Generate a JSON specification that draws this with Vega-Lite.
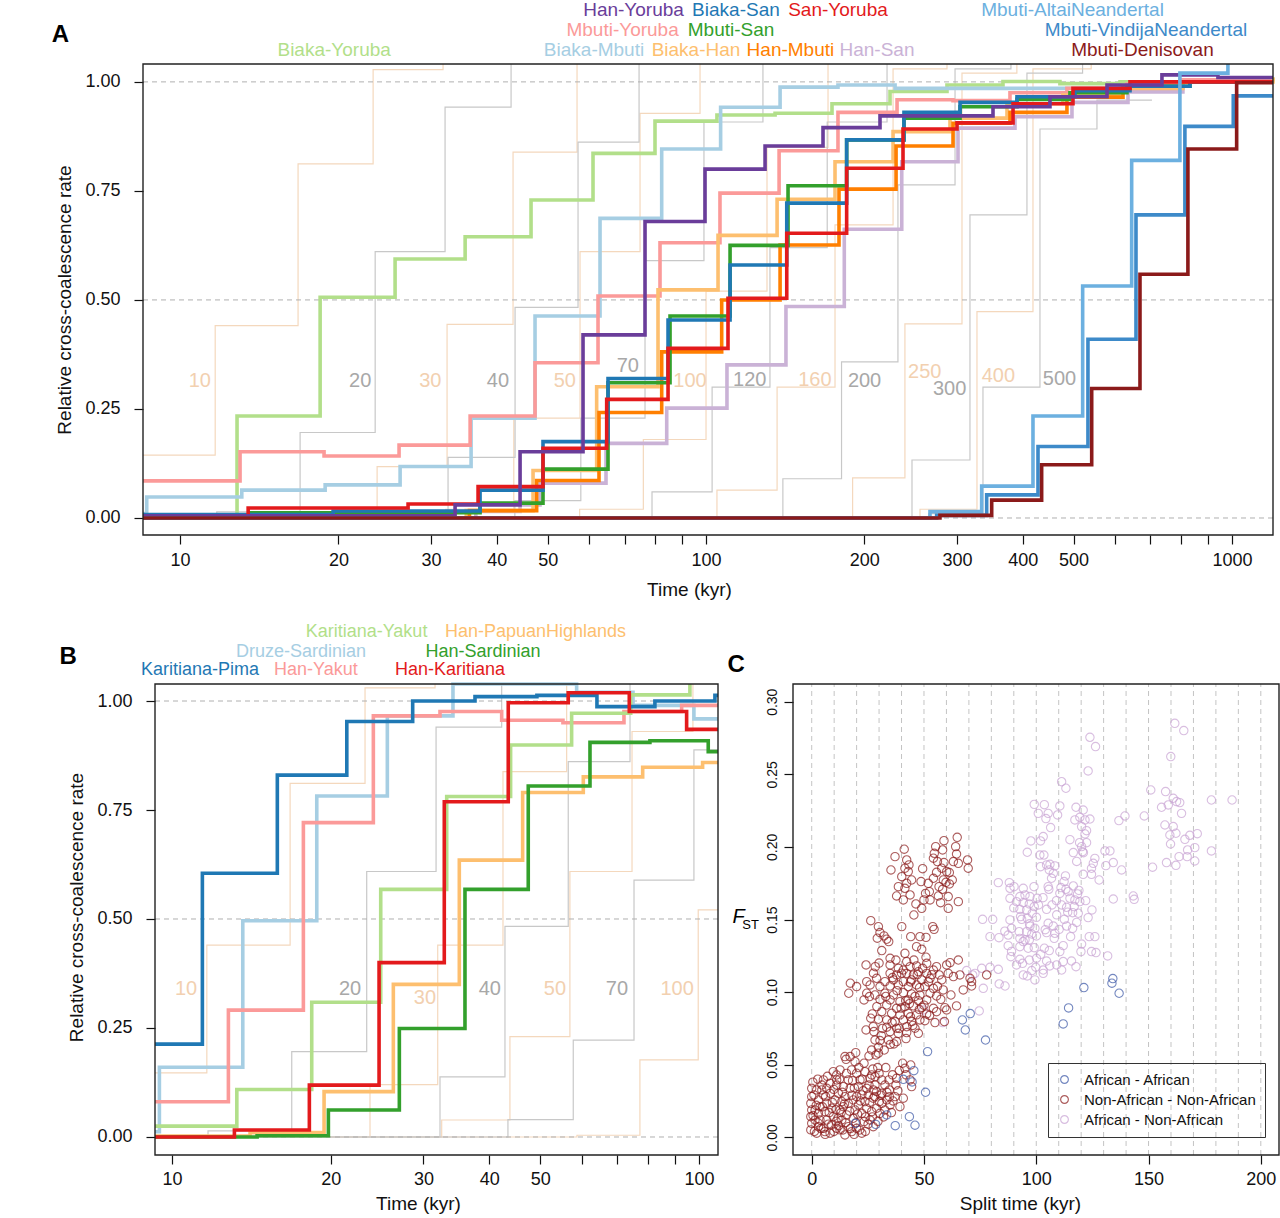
{
"$schema":"https://vega.github.io/schema/vega-lite/v6.json",
"width":1280,"height":1218,
"autosize":{"type":"none"},
"padding":0,
"background":"white",
"config":{
 "font":"Liberation Sans",
 "view":{"stroke":null},
 "axis":{"domain":false,"grid":false,"ticks":true,"tickColor":"#111","tickSize":9,"tickWidth":1.2,
  "labelFont":"Liberation Sans","labelFontSize":18,"labelColor":"#111",
  "titleFont":"Liberation Sans","titleFontSize":19,"titleFontWeight":"normal","titleColor":"#111"},
 "text":{"font":"Liberation Sans"}
},
"datasets":{
 "seriesA":[
  {"s":"Biaka-Yoruba","t":8.5,"v":0.003},{"s":"Biaka-Yoruba","t":12.83,"v":0.234},{"s":"Biaka-Yoruba","t":18.46,"v":0.506},{"s":"Biaka-Yoruba","t":25.63,"v":0.594},{"s":"Biaka-Yoruba","t":34.83,"v":0.645},{"s":"Biaka-Yoruba","t":46.48,"v":0.729},{"s":"Biaka-Yoruba","t":60.97,"v":0.836},{"s":"Biaka-Yoruba","t":79.98,"v":0.91},{"s":"Biaka-Yoruba","t":104.9,"v":0.924},{"s":"Biaka-Yoruba","t":135.3,"v":0.928},{"s":"Biaka-Yoruba","t":173.6,"v":0.95},{"s":"Biaka-Yoruba","t":223.8,"v":0.978},{"s":"Biaka-Yoruba","t":287.2,"v":0.993},{"s":"Biaka-Yoruba","t":367.0,"v":1.001},{"s":"Biaka-Yoruba","t":470.9,"v":0.996},{"s":"Biaka-Yoruba","t":612.6,"v":1.0},{"s":"Biaka-Yoruba","t":796.3,"v":1.005},{"s":"Biaka-Yoruba","t":1197,"v":1.01},
  {"s":"Biaka-Mbuti","t":8.5,"v":0.01},{"s":"Biaka-Mbuti","t":8.64,"v":0.048},{"s":"Biaka-Mbuti","t":13.1,"v":0.064},{"s":"Biaka-Mbuti","t":18.87,"v":0.076},{"s":"Biaka-Mbuti","t":26.2,"v":0.118},{"s":"Biaka-Mbuti","t":35.75,"v":0.229},{"s":"Biaka-Mbuti","t":47.3,"v":0.463},{"s":"Biaka-Mbuti","t":62.87,"v":0.687},{"s":"Biaka-Mbuti","t":82.36,"v":0.846},{"s":"Biaka-Mbuti","t":106.6,"v":0.942},{"s":"Biaka-Mbuti","t":138.3,"v":0.988},{"s":"Biaka-Mbuti","t":178.2,"v":0.993},{"s":"Biaka-Mbuti","t":228.8,"v":0.985},{"s":"Biaka-Mbuti","t":470.9,"v":0.985},{"s":"Biaka-Mbuti","t":796.3,"v":1.0},{"s":"Biaka-Mbuti","t":1197,"v":1.0},
  {"s":"Mbuti-Yoruba","t":8.5,"v":0.085},{"s":"Mbuti-Yoruba","t":13.0,"v":0.152},{"s":"Mbuti-Yoruba","t":18.78,"v":0.142},{"s":"Mbuti-Yoruba","t":26.08,"v":0.167},{"s":"Mbuti-Yoruba","t":35.6,"v":0.234},{"s":"Mbuti-Yoruba","t":47.3,"v":0.356},{"s":"Mbuti-Yoruba","t":62.32,"v":0.509},{"s":"Mbuti-Yoruba","t":81.75,"v":0.631},{"s":"Mbuti-Yoruba","t":106.3,"v":0.745},{"s":"Mbuti-Yoruba","t":137.7,"v":0.842},{"s":"Mbuti-Yoruba","t":178.2,"v":0.93},{"s":"Mbuti-Yoruba","t":230.8,"v":0.959},{"s":"Mbuti-Yoruba","t":294.9,"v":0.957},{"s":"Mbuti-Yoruba","t":378.4,"v":0.975},{"s":"Mbuti-Yoruba","t":485.6,"v":0.985},{"s":"Mbuti-Yoruba","t":631.6,"v":0.995},{"s":"Mbuti-Yoruba","t":796.3,"v":1.005},{"s":"Mbuti-Yoruba","t":1197,"v":1.005},
  {"s":"Han-San","t":8.5,"v":0.0},{"s":"Han-San","t":36.5,"v":0.015},{"s":"Han-San","t":44.3,"v":0.03},{"s":"Han-San","t":48.34,"v":0.08},{"s":"Han-San","t":64.54,"v":0.171},{"s":"Han-San","t":84.19,"v":0.252},{"s":"Han-San","t":109.6,"v":0.351},{"s":"Han-San","t":141.9,"v":0.485},{"s":"Han-San","t":183.2,"v":0.662},{"s":"Han-San","t":235.6,"v":0.817},{"s":"Han-San","t":301.4,"v":0.894},{"s":"Han-San","t":386.8,"v":0.92},{"s":"Han-San","t":496.4,"v":0.953},{"s":"Han-San","t":634.4,"v":0.977},{"s":"Han-San","t":806.8,"v":1.0},{"s":"Han-San","t":1197,"v":1.0},
  {"s":"Biaka-Han","t":8.5,"v":0.0},{"s":"Biaka-Han","t":35.0,"v":0.017},{"s":"Biaka-Han","t":46.89,"v":0.109},{"s":"Biaka-Han","t":61.95,"v":0.301},{"s":"Biaka-Han","t":81.04,"v":0.523},{"s":"Biaka-Han","t":105.4,"v":0.648},{"s":"Biaka-Han","t":136.5,"v":0.731},{"s":"Biaka-Han","t":175.9,"v":0.817},{"s":"Biaka-Han","t":226.8,"v":0.886},{"s":"Biaka-Han","t":291.0,"v":0.917},{"s":"Biaka-Han","t":373.5,"v":0.95},{"s":"Biaka-Han","t":477.1,"v":0.97},{"s":"Biaka-Han","t":612.6,"v":0.985},{"s":"Biaka-Han","t":806.8,"v":1.0},{"s":"Biaka-Han","t":1197,"v":1.01},
  {"s":"Han-Mbuti","t":8.5,"v":0.0},{"s":"Han-Mbuti","t":35.5,"v":0.017},{"s":"Han-Mbuti","t":47.64,"v":0.086},{"s":"Han-Mbuti","t":62.59,"v":0.242},{"s":"Han-Mbuti","t":82.36,"v":0.381},{"s":"Han-Mbuti","t":107.1,"v":0.5},{"s":"Han-Mbuti","t":138.3,"v":0.626},{"s":"Han-Mbuti","t":179.0,"v":0.754},{"s":"Han-Mbuti","t":229.8,"v":0.853},{"s":"Han-Mbuti","t":294.9,"v":0.905},{"s":"Han-Mbuti","t":378.4,"v":0.93},{"s":"Han-Mbuti","t":485.6,"v":0.965},{"s":"Han-Mbuti","t":620.7,"v":0.99},{"s":"Han-Mbuti","t":796.3,"v":1.0},{"s":"Han-Mbuti","t":1197,"v":1.0},
  {"s":"Mbuti-San","t":8.5,"v":0.003},{"s":"Mbuti-San","t":13.59,"v":0.012},{"s":"Mbuti-San","t":37.18,"v":0.034},{"s":"Mbuti-San","t":48.98,"v":0.112},{"s":"Mbuti-San","t":65.11,"v":0.31},{"s":"Mbuti-San","t":85.42,"v":0.463},{"s":"Mbuti-San","t":111.1,"v":0.625},{"s":"Mbuti-San","t":143.2,"v":0.762},{"s":"Mbuti-San","t":185.1,"v":0.867},{"s":"Mbuti-San","t":237.9,"v":0.917},{"s":"Mbuti-San","t":304.1,"v":0.943},{"s":"Mbuti-San","t":390.2,"v":0.96},{"s":"Mbuti-San","t":492.0,"v":0.975},{"s":"Mbuti-San","t":631.6,"v":0.99},{"s":"Mbuti-San","t":832.1,"v":1.0},{"s":"Mbuti-San","t":1197,"v":1.0},
  {"s":"Biaka-San","t":8.5,"v":0.008},{"s":"Biaka-San","t":19.54,"v":0.016},{"s":"Biaka-San","t":37.18,"v":0.064},{"s":"Biaka-San","t":48.98,"v":0.175},{"s":"Biaka-San","t":65.11,"v":0.32},{"s":"Biaka-San","t":84.68,"v":0.454},{"s":"Biaka-San","t":111.1,"v":0.58},{"s":"Biaka-San","t":142.4,"v":0.722},{"s":"Biaka-San","t":185.1,"v":0.867},{"s":"Biaka-San","t":237.9,"v":0.93},{"s":"Biaka-San","t":304.1,"v":0.953},{"s":"Biaka-San","t":390.2,"v":0.966},{"s":"Biaka-San","t":502.9,"v":0.98},{"s":"Biaka-San","t":640.0,"v":0.99},{"s":"Biaka-San","t":832.1,"v":1.0},{"s":"Biaka-San","t":1197,"v":1.0},
  {"s":"San-Yoruba","t":8.5,"v":0.003},{"s":"San-Yoruba","t":13.47,"v":0.023},{"s":"San-Yoruba","t":27.13,"v":0.032},{"s":"San-Yoruba","t":36.86,"v":0.072},{"s":"San-Yoruba","t":48.98,"v":0.16},{"s":"San-Yoruba","t":64.73,"v":0.272},{"s":"San-Yoruba","t":84.68,"v":0.389},{"s":"San-Yoruba","t":110.1,"v":0.504},{"s":"San-Yoruba","t":142.4,"v":0.653},{"s":"San-Yoruba","t":185.1,"v":0.802},{"s":"San-Yoruba","t":236.9,"v":0.892},{"s":"San-Yoruba","t":300.1,"v":0.906},{"s":"San-Yoruba","t":383.5,"v":0.95},{"s":"San-Yoruba","t":498.6,"v":0.985},{"s":"San-Yoruba","t":640.0,"v":1.0},{"s":"San-Yoruba","t":1197,"v":1.0},
  {"s":"Han-Yoruba","t":8.5,"v":0.005},{"s":"Han-Yoruba","t":33.33,"v":0.03},{"s":"Han-Yoruba","t":44.3,"v":0.152},{"s":"Han-Yoruba","t":58.36,"v":0.42},{"s":"Han-Yoruba","t":76.56,"v":0.68},{"s":"Han-Yoruba","t":99.56,"v":0.8},{"s":"Han-Yoruba","t":129.5,"v":0.853},{"s":"Han-Yoruba","t":166.9,"v":0.895},{"s":"Han-Yoruba","t":214.2,"v":0.922},{"s":"Han-Yoruba","t":351.3,"v":0.943},{"s":"Han-Yoruba","t":450.8,"v":0.966},{"s":"Han-Yoruba","t":578.7,"v":0.993},{"s":"Han-Yoruba","t":736.1,"v":1.016},{"s":"Han-Yoruba","t":940.6,"v":1.01},{"s":"Han-Yoruba","t":1197,"v":1.01},
  {"s":"Mbuti-AltaiNeandertal","t":8.5,"v":0.0},{"s":"Mbuti-AltaiNeandertal","t":266.6,"v":0.0145},{"s":"Mbuti-AltaiNeandertal","t":334.3,"v":0.073},{"s":"Mbuti-AltaiNeandertal","t":418.5,"v":0.234},{"s":"Mbuti-AltaiNeandertal","t":520.2,"v":0.532},{"s":"Mbuti-AltaiNeandertal","t":644.7,"v":0.82},{"s":"Mbuti-AltaiNeandertal","t":796.3,"v":1.02},{"s":"Mbuti-AltaiNeandertal","t":982.6,"v":1.041},
  {"s":"Mbuti-VindijaNeandertal","t":8.5,"v":0.0},{"s":"Mbuti-VindijaNeandertal","t":274.5,"v":0.006},{"s":"Mbuti-VindijaNeandertal","t":341.7,"v":0.053},{"s":"Mbuti-VindijaNeandertal","t":427.8,"v":0.164},{"s":"Mbuti-VindijaNeandertal","t":532.4,"v":0.41},{"s":"Mbuti-VindijaNeandertal","t":657.0,"v":0.695},{"s":"Mbuti-VindijaNeandertal","t":813.9,"v":0.898},{"s":"Mbuti-VindijaNeandertal","t":1005.8,"v":0.968},{"s":"Mbuti-VindijaNeandertal","t":1197,"v":0.968},
  {"s":"Mbuti-Denisovan","t":8.5,"v":0.0},{"s":"Mbuti-Denisovan","t":278.5,"v":0.006},{"s":"Mbuti-Denisovan","t":349.3,"v":0.041},{"s":"Mbuti-Denisovan","t":434.7,"v":0.122},{"s":"Mbuti-Denisovan","t":541.2,"v":0.297},{"s":"Mbuti-Denisovan","t":668.6,"v":0.559},{"s":"Mbuti-Denisovan","t":824.7,"v":0.846},{"s":"Mbuti-Denisovan","t":1020.9,"v":0.998},{"s":"Mbuti-Denisovan","t":1197,"v":0.998}
 ],
 "refA":[
  {"ref":10,"t":8.5,"v":0.144},{"ref":10,"t":11.66,"v":0.441},{"ref":10,"t":16.76,"v":0.812},{"ref":10,"t":23.28,"v":1.028},{"ref":10,"t":31.62,"v":1.041},
  {"ref":20,"t":8.5,"v":0.0},{"ref":20,"t":11.74,"v":0.014},{"ref":20,"t":16.91,"v":0.196},{"ref":20,"t":23.49,"v":0.611},{"ref":20,"t":31.9,"v":0.942},{"ref":20,"t":42.59,"v":1.041},
  {"ref":30,"t":8.5,"v":0.0},{"ref":30,"t":18.0,"v":0.004},{"ref":30,"t":23.69,"v":0.118},{"ref":30,"t":32.18,"v":0.444},{"ref":30,"t":42.96,"v":0.839},{"ref":30,"t":56.85,"v":1.041},
  {"ref":40,"t":8.5,"v":0.0},{"ref":40,"t":23.5,"v":0.01},{"ref":40,"t":32.32,"v":0.139},{"ref":40,"t":43.34,"v":0.483},{"ref":40,"t":57.1,"v":0.862},{"ref":40,"t":74.59,"v":1.041},
  {"ref":50,"t":8.5,"v":0.0},{"ref":50,"t":32.0,"v":0.02},{"ref":50,"t":43.1,"v":0.229},{"ref":50,"t":57.6,"v":0.611},{"ref":50,"t":74.91,"v":0.928},{"ref":50,"t":97.41,"v":1.041},
  {"ref":70,"t":8.5,"v":0.0},{"ref":70,"t":43.3,"v":0.04},{"ref":70,"t":57.8,"v":0.229},{"ref":70,"t":76.56,"v":0.59},{"ref":70,"t":99.1,"v":0.908},{"ref":70,"t":128.3,"v":1.041},
  {"ref":100,"t":8.5,"v":0.0},{"ref":100,"t":57.5,"v":0.02},{"ref":100,"t":76.0,"v":0.18},{"ref":100,"t":100.0,"v":0.52},{"ref":100,"t":130.6,"v":0.85},{"ref":100,"t":170.6,"v":1.041},
  {"ref":120,"t":8.5,"v":0.0},{"ref":120,"t":78.94,"v":0.06},{"ref":120,"t":102.7,"v":0.3},{"ref":120,"t":132.3,"v":0.62},{"ref":120,"t":170.0,"v":0.908},{"ref":120,"t":220.9,"v":1.041},
  {"ref":160,"t":8.5,"v":0.0},{"ref":160,"t":104.9,"v":0.064},{"ref":160,"t":136.5,"v":0.3},{"ref":160,"t":175.9,"v":0.672},{"ref":160,"t":226.8,"v":1.03},{"ref":160,"t":287.2,"v":1.041},
  {"ref":200,"t":8.5,"v":0.0},{"ref":200,"t":140.0,"v":0.09},{"ref":200,"t":181.0,"v":0.358},{"ref":200,"t":231.7,"v":0.764},{"ref":200,"t":297.5,"v":1.03},{"ref":200,"t":380.0,"v":1.041},
  {"ref":250,"t":8.5,"v":0.0},{"ref":250,"t":190.0,"v":0.092},{"ref":250,"t":238.9,"v":0.445},{"ref":250,"t":306.7,"v":1.02},{"ref":250,"t":390.0,"v":1.041},
  {"ref":300,"t":8.5,"v":0.0},{"ref":300,"t":246.4,"v":0.133},{"ref":300,"t":317.6,"v":0.695},{"ref":300,"t":407.6,"v":1.02},{"ref":300,"t":520.0,"v":1.041},
  {"ref":400,"t":8.5,"v":0.0},{"ref":400,"t":255.2,"v":0.02},{"ref":400,"t":327.5,"v":0.473},{"ref":400,"t":418.5,"v":1.03},{"ref":400,"t":540.0,"v":1.041},
  {"ref":500,"t":8.5,"v":0.0},{"ref":500,"t":265.0,"v":0.01},{"ref":500,"t":336.2,"v":0.3},{"ref":500,"t":431.5,"v":0.892},{"ref":500,"t":553.8,"v":0.958},{"ref":500,"t":704.6,"v":0.958}
 ],
 "refLabelsA":[
  {"ref":10,"t":10.9,"v":0.314},{"ref":20,"t":22.0,"v":0.314},{"ref":30,"t":29.9,"v":0.314},{"ref":40,"t":40.2,"v":0.314},{"ref":50,"t":53.9,"v":0.314},{"ref":70,"t":71.0,"v":0.349},{"ref":100,"t":93.2,"v":0.314},{"ref":120,"t":121.1,"v":0.317},{"ref":160,"t":161.1,"v":0.317},{"ref":200,"t":200.2,"v":0.314},{"ref":250,"t":260.6,"v":0.335},{"ref":300,"t":290.6,"v":0.296},{"ref":400,"t":359.7,"v":0.326},{"ref":500,"t":470.0,"v":0.319}
 ],
 "labelsA":[
  {"s":"Han-Yoruba","t":72.8,"v":1.165},{"s":"Biaka-San","t":114.0,"v":1.165},{"s":"San-Yoruba","t":178.2,"v":1.165},{"s":"Mbuti-AltaiNeandertal","t":497.6,"v":1.165},
  {"s":"Mbuti-Yoruba","t":69.4,"v":1.119},{"s":"Mbuti-San","t":111.6,"v":1.119},{"s":"Mbuti-VindijaNeandertal","t":686.3,"v":1.119},
  {"s":"Biaka-Yoruba","t":19.63,"v":1.073},{"s":"Biaka-Mbuti","t":61.24,"v":1.073},{"s":"Biaka-Han","t":95.7,"v":1.073},{"s":"Han-Mbuti","t":144.7,"v":1.073},{"s":"Han-San","t":211.4,"v":1.073},{"s":"Mbuti-Denisovan","t":675.8,"v":1.073}
 ],
 "gridA":[{"v":0},{"v":0.5},{"v":1}],
 "seriesB":[
  {"s":"Druze-Sardinian","t":9.28,"v":0.012},{"s":"Druze-Sardinian","t":9.46,"v":0.16},{"s":"Druze-Sardinian","t":13.62,"v":0.496},{"s":"Druze-Sardinian","t":18.82,"v":0.782},{"s":"Druze-Sardinian","t":25.62,"v":0.966},{"s":"Druze-Sardinian","t":34.13,"v":1.039},{"s":"Druze-Sardinian","t":58.6,"v":1.02},{"s":"Druze-Sardinian","t":74.97,"v":0.99},{"s":"Druze-Sardinian","t":97.84,"v":0.959},{"s":"Druze-Sardinian","t":108.7,"v":0.959},
  {"s":"Han-Yakut","t":9.28,"v":0.081},{"s":"Han-Yakut","t":12.79,"v":0.291},{"s":"Han-Yakut","t":17.75,"v":0.721},{"s":"Han-Yakut","t":24.1,"v":0.966},{"s":"Han-Yakut","t":32.25,"v":0.976},{"s":"Han-Yakut","t":42.23,"v":0.956},{"s":"Han-Yakut","t":55.2,"v":0.95},{"s":"Han-Yakut","t":72.07,"v":0.976},{"s":"Han-Yakut","t":92.73,"v":0.99},{"s":"Han-Yakut","t":108.7,"v":0.99},
  {"s":"Karitiana-Yakut","t":9.28,"v":0.025},{"s":"Karitiana-Yakut","t":13.27,"v":0.109},{"s":"Karitiana-Yakut","t":18.41,"v":0.309},{"s":"Karitiana-Yakut","t":24.89,"v":0.568},{"s":"Karitiana-Yakut","t":33.21,"v":0.781},{"s":"Karitiana-Yakut","t":43.91,"v":0.899},{"s":"Karitiana-Yakut","t":57.33,"v":0.972},{"s":"Karitiana-Yakut","t":74.22,"v":1.014},{"s":"Karitiana-Yakut","t":96.14,"v":1.039},
  {"s":"Han-PapuanHighlands","t":9.28,"v":0.002},{"s":"Han-PapuanHighlands","t":14.06,"v":0.01},{"s":"Han-PapuanHighlands","t":19.43,"v":0.104},{"s":"Han-PapuanHighlands","t":26.3,"v":0.35},{"s":"Han-PapuanHighlands","t":35.09,"v":0.635},{"s":"Han-PapuanHighlands","t":46.28,"v":0.79},{"s":"Han-PapuanHighlands","t":60.33,"v":0.826},{"s":"Han-PapuanHighlands","t":78.21,"v":0.848},{"s":"Han-PapuanHighlands","t":101.63,"v":0.859},{"s":"Han-PapuanHighlands","t":108.7,"v":0.859},
  {"s":"Han-Sardinian","t":9.28,"v":0.0},{"s":"Han-Sardinian","t":14.5,"v":0.003},{"s":"Han-Sardinian","t":19.8,"v":0.062},{"s":"Han-Sardinian","t":27.0,"v":0.249},{"s":"Han-Sardinian","t":35.97,"v":0.568},{"s":"Han-Sardinian","t":47.43,"v":0.805},{"s":"Han-Sardinian","t":62.12,"v":0.905},{"s":"Han-Sardinian","t":80.72,"v":0.909},{"s":"Han-Sardinian","t":104.16,"v":0.884},{"s":"Han-Sardinian","t":108.7,"v":0.884},
  {"s":"Karitiana-Pima","t":9.28,"v":0.213},{"s":"Karitiana-Pima","t":11.415,"v":0.605},{"s":"Karitiana-Pima","t":15.84,"v":0.83},{"s":"Karitiana-Pima","t":21.46,"v":0.953},{"s":"Karitiana-Pima","t":28.62,"v":1.0},{"s":"Karitiana-Pima","t":37.58,"v":1.01},{"s":"Karitiana-Pima","t":49.26,"v":1.013},{"s":"Karitiana-Pima","t":64.04,"v":0.987},{"s":"Karitiana-Pima","t":82.5,"v":1.0},{"s":"Karitiana-Pima","t":107.25,"v":1.013},{"s":"Karitiana-Pima","t":108.7,"v":1.013},
  {"s":"Han-Karitiana","t":9.28,"v":0.0},{"s":"Han-Karitiana","t":13.13,"v":0.016},{"s":"Han-Karitiana","t":18.22,"v":0.119},{"s":"Han-Karitiana","t":24.71,"v":0.4},{"s":"Han-Karitiana","t":32.86,"v":0.769},{"s":"Han-Karitiana","t":43.46,"v":0.996},{"s":"Han-Karitiana","t":56.49,"v":1.019},{"s":"Han-Karitiana","t":73.76,"v":0.976},{"s":"Han-Karitiana","t":94.77,"v":0.935},{"s":"Han-Karitiana","t":108.7,"v":0.935}
 ],
 "refB":[
  {"ref":10,"t":9.28,"v":0.147},{"ref":10,"t":11.64,"v":0.44},{"ref":10,"t":16.75,"v":0.811},{"ref":10,"t":23.24,"v":1.03},{"ref":10,"t":31.56,"v":1.039},
  {"ref":20,"t":9.28,"v":0.0},{"ref":20,"t":11.7,"v":0.014},{"ref":20,"t":16.87,"v":0.196},{"ref":20,"t":23.41,"v":0.609},{"ref":20,"t":31.7,"v":0.94},{"ref":20,"t":42.23,"v":1.039},
  {"ref":30,"t":9.28,"v":0.0},{"ref":30,"t":23.75,"v":0.12},{"ref":30,"t":31.93,"v":0.44},{"ref":30,"t":42.47,"v":0.838},{"ref":30,"t":56.1,"v":1.039},
  {"ref":40,"t":9.28,"v":0.0},{"ref":40,"t":32.25,"v":0.138},{"ref":40,"t":42.84,"v":0.483},{"ref":40,"t":56.49,"v":0.861},{"ref":40,"t":74.0,"v":1.039},
  {"ref":50,"t":9.28,"v":0.0},{"ref":50,"t":32.49,"v":0.039},{"ref":50,"t":43.78,"v":0.23},{"ref":50,"t":56.9,"v":0.609},{"ref":50,"t":74.65,"v":0.93},{"ref":50,"t":97.41,"v":1.039},
  {"ref":70,"t":9.28,"v":0.0},{"ref":70,"t":43.4,"v":0.04},{"ref":70,"t":57.74,"v":0.222},{"ref":70,"t":75.3,"v":0.589},{"ref":70,"t":97.84,"v":0.888},{"ref":70,"t":108.7,"v":0.888},
  {"ref":100,"t":9.28,"v":0.0},{"ref":100,"t":58.68,"v":0.004},{"ref":100,"t":77.27,"v":0.177},{"ref":100,"t":99.7,"v":0.521},{"ref":100,"t":108.7,"v":0.521}
 ],
 "refLabelsB":[
  {"ref":10,"t":10.63,"v":0.339},{"ref":20,"t":21.77,"v":0.339},{"ref":30,"t":30.2,"v":0.319},{"ref":40,"t":40.1,"v":0.339},{"ref":50,"t":53.3,"v":0.339},{"ref":70,"t":69.9,"v":0.339},{"ref":100,"t":90.9,"v":0.339}
 ],
 "labelsB":[
  {"s":"Karitiana-Yakut","t":23.39,"v":1.158},{"s":"Han-PapuanHighlands","t":48.95,"v":1.158},
  {"s":"Druze-Sardinian","t":17.57,"v":1.112},{"s":"Han-Sardinian","t":38.92,"v":1.112},
  {"s":"Karitiana-Pima","t":11.3,"v":1.071},{"s":"Han-Yakut","t":18.75,"v":1.071},{"s":"Han-Karitiana","t":33.7,"v":1.071}
 ],
 "gridC":[{"t":0},{"t":10},{"t":20},{"t":30},{"t":40},{"t":50},{"t":60},{"t":70},{"t":80},{"t":90},{"t":100},{"t":110},{"t":120},{"t":130},{"t":140},{"t":150},{"t":160},{"t":170},{"t":180},{"t":190},{"t":200}],
 "fst":[
  {"g":"AN","t":161.7,"f":0.2851},{"g":"AN","t":165.7,"f":0.2801},{"g":"AN","t":123.9,"f":0.2755},{"g":"AN","t":126.4,"f":0.2691},{"g":"AN","t":159.9,"f":0.2622},{"g":"AN","t":123.1,"f":0.2523},{"g":"AN","t":111.3,"f":0.2449},{"g":"AN","t":113.2,"f":0.2404},{"g":"AN","t":151.0,"f":0.2392},{"g":"AN","t":157.6,"f":0.2381},
  {"g":"AN","t":178.0,"f":0.2323},{"g":"AN","t":187.2,"f":0.2323},{"g":"AN","t":161.0,"f":0.2335},{"g":"AN","t":162.5,"f":0.2312},{"g":"AN","t":163.9,"f":0.2305},{"g":"AN","t":164.7,"f":0.2231},{"g":"AN","t":155.8,"f":0.2273},{"g":"AN","t":158.8,"f":0.2289},{"g":"AN","t":148.1,"f":0.2213},{"g":"AN","t":139.5,"f":0.2213},
  {"g":"AN","t":136.8,"f":0.2181},{"g":"AN","t":157.3,"f":0.2151},{"g":"AN","t":161.0,"f":0.214},{"g":"AN","t":159.5,"f":0.2082},{"g":"AN","t":162.2,"f":0.2094},{"g":"AN","t":168.4,"f":0.208},{"g":"AN","t":171.7,"f":0.2091},{"g":"AN","t":166.2,"f":0.2052},{"g":"AN","t":159.8,"f":0.202},{"g":"AN","t":167.4,"f":0.1979},
  {"g":"AN","t":170.6,"f":0.1995},{"g":"AN","t":178.0,"f":0.1972},{"g":"AN","t":163.6,"f":0.1933},{"g":"AN","t":167.2,"f":0.1933},{"g":"AN","t":170.6,"f":0.1903},{"g":"AN","t":158.0,"f":0.1892},{"g":"AN","t":162.2,"f":0.1873},{"g":"AN","t":151.8,"f":0.186},{"g":"AN","t":99.1,"f":0.2293},{"g":"AN","t":103.6,"f":0.2291},
  {"g":"AN","t":110.5,"f":0.2282},{"g":"AN","t":117.7,"f":0.2273},{"g":"AN","t":120.9,"f":0.2254},{"g":"AN","t":100.9,"f":0.2231},{"g":"AN","t":105.3,"f":0.2231},{"g":"AN","t":109.5,"f":0.222},{"g":"AN","t":104.3,"f":0.2195},{"g":"AN","t":106.4,"f":0.2133},{"g":"AN","t":117.2,"f":0.2186},{"g":"AN","t":119.4,"f":0.2204},
  {"g":"AN","t":121.7,"f":0.2186},{"g":"AN","t":123.9,"f":0.2192},{"g":"AN","t":120.2,"f":0.214},{"g":"AN","t":122.4,"f":0.2112},{"g":"AN","t":121.7,"f":0.2089},{"g":"AN","t":103.1,"f":0.2071},{"g":"AN","t":97.6,"f":0.2041},{"g":"AN","t":101.9,"f":0.2041},{"g":"AN","t":119.3,"f":0.2029},{"g":"AN","t":122.4,"f":0.2029},
  {"g":"AN","t":120.2,"f":0.2002},{"g":"AN","t":116.5,"f":0.1961},{"g":"AN","t":120.6,"f":0.1967},{"g":"AN","t":130.6,"f":0.1972},{"g":"AN","t":132.8,"f":0.1972},{"g":"AN","t":96.0,"f":0.1963},{"g":"AN","t":101.6,"f":0.1944},{"g":"AN","t":103.4,"f":0.1944},{"g":"AN","t":126.1,"f":0.1921},{"g":"AN","t":125.4,"f":0.1887},
  {"g":"AN","t":131.0,"f":0.1871},{"g":"AN","t":134.3,"f":0.1892},{"g":"AN","t":138.0,"f":0.1841},{"g":"AN","t":101.9,"f":0.1864},{"g":"AN","t":104.6,"f":0.1876},{"g":"AN","t":106.1,"f":0.188},{"g":"AN","t":108.3,"f":0.1869},{"g":"AN","t":105.8,"f":0.1841},{"g":"AN","t":107.6,"f":0.1818},{"g":"AN","t":106.8,"f":0.1784},
  {"g":"AN","t":124.6,"f":0.1853},{"g":"AN","t":120.9,"f":0.1811},{"g":"AN","t":124.6,"f":0.1811},{"g":"AN","t":128.0,"f":0.1772},{"g":"AN","t":112.4,"f":0.1761},{"g":"AN","t":83.1,"f":0.1754},{"g":"AN","t":88.0,"f":0.1754},{"g":"AN","t":105.3,"f":0.1726},{"g":"AN","t":105.6,"f":0.1708},{"g":"AN","t":113.2,"f":0.1708},
  {"g":"AN","t":116.5,"f":0.1731},{"g":"AN","t":88.3,"f":0.1715},{"g":"AN","t":90.1,"f":0.1726},{"g":"AN","t":94.2,"f":0.1715},{"g":"AN","t":99.0,"f":0.1726},{"g":"AN","t":110.5,"f":0.168},{"g":"AN","t":114.2,"f":0.1692},{"g":"AN","t":118.4,"f":0.1676},{"g":"AN","t":115.0,"f":0.1646},{"g":"AN","t":117.2,"f":0.1635},
  {"g":"AN","t":119.4,"f":0.1623},{"g":"AN","t":116.9,"f":0.1589},{"g":"AN","t":113.5,"f":0.1584},{"g":"AN","t":111.3,"f":0.16},{"g":"AN","t":118.7,"f":0.1543},{"g":"AN","t":116.2,"f":0.1547},{"g":"AN","t":123.1,"f":0.1513},{"g":"AN","t":124.8,"f":0.1566},{"g":"AN","t":143.2,"f":0.1662},{"g":"AN","t":143.6,"f":0.1639},
  {"g":"AN","t":134.3,"f":0.1641},{"g":"AN","t":88.3,"f":0.1646},{"g":"AN","t":92.7,"f":0.1658},{"g":"AN","t":95.0,"f":0.1669},{"g":"AN","t":97.2,"f":0.1658},{"g":"AN","t":100.4,"f":0.1646},{"g":"AN","t":91.2,"f":0.1623},{"g":"AN","t":94.2,"f":0.1616},{"g":"AN","t":96.9,"f":0.1607},{"g":"AN","t":99.1,"f":0.1589},
  {"g":"AN","t":92.7,"f":0.157},{"g":"AN","t":95.7,"f":0.1566},{"g":"AN","t":98.2,"f":0.1543},{"g":"AN","t":100.1,"f":0.1515},{"g":"AN","t":104.6,"f":0.157},{"g":"AN","t":109.1,"f":0.1532},{"g":"AN","t":112.5,"f":0.1501},{"g":"AN","t":96.0,"f":0.1508},{"g":"AN","t":93.5,"f":0.1501},{"g":"AN","t":88.3,"f":0.1497},
  {"g":"AN","t":76.1,"f":0.1501},{"g":"AN","t":80.6,"f":0.1501},{"g":"AN","t":97.2,"f":0.1455},{"g":"AN","t":99.4,"f":0.1439},{"g":"AN","t":89.0,"f":0.1439},{"g":"AN","t":92.4,"f":0.1416},{"g":"AN","t":95.7,"f":0.1416},{"g":"AN","t":105.3,"f":0.1474},{"g":"AN","t":107.6,"f":0.1455},{"g":"AN","t":113.5,"f":0.1455},
  {"g":"AN","t":116.2,"f":0.1439},{"g":"AN","t":110.2,"f":0.1432},{"g":"AN","t":104.6,"f":0.141},{"g":"AN","t":108.3,"f":0.1405},{"g":"AN","t":115.3,"f":0.1382},{"g":"AN","t":123.6,"f":0.1382},{"g":"AN","t":126.1,"f":0.1382},{"g":"AN","t":79.4,"f":0.1382},{"g":"AN","t":83.4,"f":0.1375},{"g":"AN","t":87.5,"f":0.1393},
  {"g":"AN","t":92.7,"f":0.137},{"g":"AN","t":94.2,"f":0.1348},{"g":"AN","t":96.9,"f":0.1359},{"g":"AN","t":100.1,"f":0.1387},{"g":"AN","t":87.5,"f":0.132},{"g":"AN","t":92.7,"f":0.1313},{"g":"AN","t":96.4,"f":0.1302},{"g":"AN","t":99.1,"f":0.1306},{"g":"AN","t":103.6,"f":0.1302},{"g":"AN","t":105.8,"f":0.1286},
  {"g":"AN","t":110.5,"f":0.1279},{"g":"AN","t":120.2,"f":0.1331},{"g":"AN","t":119.9,"f":0.1279},{"g":"AN","t":124.6,"f":0.1279},{"g":"AN","t":126.6,"f":0.1272},{"g":"AN","t":131.8,"f":0.1249},{"g":"AN","t":88.7,"f":0.1244},{"g":"AN","t":92.7,"f":0.1226},{"g":"AN","t":96.9,"f":0.1221},{"g":"AN","t":100.1,"f":0.1233},
  {"g":"AN","t":104.6,"f":0.1214},{"g":"AN","t":109.1,"f":0.1187},{"g":"AN","t":112.0,"f":0.121},{"g":"AN","t":115.7,"f":0.1214},{"g":"AN","t":117.7,"f":0.1175},{"g":"AN","t":93.9,"f":0.1198},{"g":"AN","t":91.2,"f":0.1187},{"g":"AN","t":99.8,"f":0.1171},{"g":"AN","t":103.1,"f":0.1152},{"g":"AN","t":98.0,"f":0.1148},
  {"g":"AN","t":94.2,"f":0.1118},{"g":"AN","t":96.0,"f":0.1111},{"g":"AN","t":99.4,"f":0.1084},{"g":"AN","t":111.3,"f":0.1152},{"g":"AN","t":103.1,"f":0.1129},{"g":"AN","t":69.0,"f":0.1148},{"g":"AN","t":72.7,"f":0.1129},{"g":"AN","t":75.7,"f":0.1164},{"g":"AN","t":79.4,"f":0.1171},{"g":"AN","t":83.1,"f":0.1157},
  {"g":"AN","t":76.4,"f":0.1026},{"g":"AN","t":83.5,"f":0.1056},{"g":"AN","t":86.1,"f":0.1042},{"g":"AN","t":74.6,"f":0.087},{"g":"AN","t":71.7,"f":0.1118},{"g":"AN","t":49.7,"f":0.0877},{"g":"AN","t":58.3,"f":0.079},
  {"g":"AN","t":90,"f":0.158},{"g":"AN","t":93,"f":0.152},{"g":"AN","t":97,"f":0.147},{"g":"AN","t":101,"f":0.16},{"g":"AN","t":103,"f":0.165},{"g":"AN","t":107,"f":0.16},{"g":"AN","t":111,"f":0.172},{"g":"AN","t":113,"f":0.18},{"g":"AN","t":118,"f":0.19},{"g":"AN","t":121,"f":0.196},
  {"g":"AN","t":115,"f":0.205},{"g":"AN","t":119,"f":0.17},{"g":"AN","t":122,"f":0.163},{"g":"AN","t":108,"f":0.137},{"g":"AN","t":112,"f":0.132},{"g":"AN","t":86,"f":0.142},{"g":"AN","t":89,"f":0.128},{"g":"AN","t":102,"f":0.126},{"g":"AN","t":106,"f":0.118},{"g":"AN","t":114,"f":0.155},
  {"g":"AN","t":118,"f":0.148},{"g":"AN","t":95,"f":0.136},{"g":"AN","t":98,"f":0.14},{"g":"AN","t":104,"f":0.143},{"g":"AN","t":109,"f":0.163},
  {"g":"NN","t":64.8,"f":0.2066},{"g":"NN","t":58.9,"f":0.2043},{"g":"NN","t":55.2,"f":0.2002},{"g":"NN","t":54.6,"f":0.1956},{"g":"NN","t":58.3,"f":0.1979},{"g":"NN","t":64.1,"f":0.2002},{"g":"NN","t":64.5,"f":0.1951},{"g":"NN","t":63.1,"f":0.1899},{"g":"NN","t":65.3,"f":0.1887},{"g":"NN","t":69.4,"f":0.191},
  {"g":"NN","t":69.7,"f":0.1853},{"g":"NN","t":41.2,"f":0.1984},{"g":"NN","t":37.1,"f":0.1933},{"g":"NN","t":42.3,"f":0.191},{"g":"NN","t":43.3,"f":0.1876},{"g":"NN","t":35.3,"f":0.1841},{"g":"NN","t":41.5,"f":0.1853},{"g":"NN","t":43.0,"f":0.183},{"g":"NN","t":40.1,"f":0.1795},{"g":"NN","t":44.5,"f":0.1772},
  {"g":"NN","t":42.3,"f":0.1749},{"g":"NN","t":48.7,"f":0.1761},{"g":"NN","t":49.4,"f":0.185},{"g":"NN","t":38.6,"f":0.1726},{"g":"NN","t":41.5,"f":0.1715},{"g":"NN","t":43.8,"f":0.1669},{"g":"NN","t":37.8,"f":0.1662},{"g":"NN","t":40.8,"f":0.1635},{"g":"NN","t":46.4,"f":0.1607},{"g":"NN","t":45.5,"f":0.1531},
  {"g":"NN","t":50.0,"f":0.1635},{"g":"NN","t":50.7,"f":0.168},{"g":"NN","t":52.4,"f":0.1692},{"g":"NN","t":51.9,"f":0.1749},{"g":"NN","t":54.2,"f":0.1784},{"g":"NN","t":55.6,"f":0.1825},{"g":"NN","t":57.9,"f":0.1853},{"g":"NN","t":58.9,"f":0.1892},{"g":"NN","t":56.0,"f":0.1899},{"g":"NN","t":60.1,"f":0.183},
  {"g":"NN","t":58.6,"f":0.1772},{"g":"NN","t":59.8,"f":0.1756},{"g":"NN","t":61.3,"f":0.1745},{"g":"NN","t":56.7,"f":0.1726},{"g":"NN","t":58.3,"f":0.1708},{"g":"NN","t":56.4,"f":0.1662},{"g":"NN","t":60.8,"f":0.1658},{"g":"NN","t":57.4,"f":0.1616},{"g":"NN","t":60.8,"f":0.1577},{"g":"NN","t":65.3,"f":0.1623},
  {"g":"NN","t":49.0,"f":0.1577},{"g":"NN","t":52.7,"f":0.1635},{"g":"NN","t":54.2,"f":0.1922},{"g":"NN","t":61.3,"f":0.1823},{"g":"NN","t":62.6,"f":0.1772},
  {"g":"NN","t":26.3,"f":0.1492},{"g":"NN","t":29.7,"f":0.1451},{"g":"NN","t":30.4,"f":0.141},{"g":"NN","t":32.2,"f":0.1387},{"g":"NN","t":33.4,"f":0.1364},{"g":"NN","t":34.3,"f":0.1348},{"g":"NN","t":31.2,"f":0.1286},{"g":"NN","t":29.2,"f":0.1371},{"g":"NN","t":40.1,"f":0.1451},{"g":"NN","t":53.9,"f":0.1451},
  {"g":"NN","t":54.5,"f":0.1432},{"g":"NN","t":44.1,"f":0.1382},{"g":"NN","t":46.7,"f":0.1313},{"g":"NN","t":48.2,"f":0.1382},{"g":"NN","t":50.9,"f":0.1377},
  {"g":"NN","t":49.0,"f":0.1295},{"g":"NN","t":41.5,"f":0.1267},{"g":"NN","t":34.9,"f":0.1233},{"g":"NN","t":37.5,"f":0.1221},{"g":"NN","t":42.3,"f":0.121},{"g":"NN","t":45.5,"f":0.1221},{"g":"NN","t":50.9,"f":0.124},{"g":"NN","t":51.2,"f":0.1198},{"g":"NN","t":43.8,"f":0.1175},{"g":"NN","t":46.7,"f":0.118},
  {"g":"NN","t":49.4,"f":0.1164},{"g":"NN","t":40.8,"f":0.1152},{"g":"NN","t":38.6,"f":0.1164},{"g":"NN","t":34.9,"f":0.1187},{"g":"NN","t":24.2,"f":0.1187},{"g":"NN","t":28.3,"f":0.1175},{"g":"NN","t":34.9,"f":0.1129},{"g":"NN","t":37.8,"f":0.1118},{"g":"NN","t":42.3,"f":0.1129},{"g":"NN","t":45.3,"f":0.1118},
  {"g":"NN","t":47.5,"f":0.1141},{"g":"NN","t":51.2,"f":0.1129},{"g":"NN","t":54.2,"f":0.1152},{"g":"NN","t":55.6,"f":0.1175},{"g":"NN","t":60.1,"f":0.1187},{"g":"NN","t":61.6,"f":0.1203},{"g":"NN","t":65.3,"f":0.1221},{"g":"NN","t":60.8,"f":0.1129},{"g":"NN","t":56.8,"f":0.1118},{"g":"NN","t":63.1,"f":0.1107},
  {"g":"NN","t":66.0,"f":0.1118},{"g":"NN","t":70.5,"f":0.1095},{"g":"NN","t":77.9,"f":0.1118},{"g":"NN","t":57.9,"f":0.1084},{"g":"NN","t":52.7,"f":0.1095},{"g":"NN","t":49.0,"f":0.1084},{"g":"NN","t":44.5,"f":0.1084},{"g":"NN","t":40.8,"f":0.1072},{"g":"NN","t":36.4,"f":0.1084},{"g":"NN","t":32.6,"f":0.1072},
  {"g":"NN","t":28.9,"f":0.1095},{"g":"NN","t":24.5,"f":0.1072},{"g":"NN","t":17.2,"f":0.1061},{"g":"NN","t":26.0,"f":0.1049},{"g":"NN","t":30.4,"f":0.1038},{"g":"NN","t":34.9,"f":0.1042},{"g":"NN","t":38.6,"f":0.1049},{"g":"NN","t":43.0,"f":0.1038},{"g":"NN","t":46.7,"f":0.1049},{"g":"NN","t":50.4,"f":0.1038},
  {"g":"NN","t":54.2,"f":0.1026},{"g":"NN","t":58.6,"f":0.1015},{"g":"NN","t":71.2,"f":0.1072},{"g":"NN","t":71.2,"f":0.1042},{"g":"NN","t":67.5,"f":0.1015},{"g":"NN","t":16.5,"f":0.0992},{"g":"NN","t":24.5,"f":0.0992},{"g":"NN","t":28.2,"f":0.098},{"g":"NN","t":32.6,"f":0.0992},{"g":"NN","t":36.4,"f":0.098},
  {"g":"NN","t":40.8,"f":0.0996},{"g":"NN","t":44.5,"f":0.0987},{"g":"NN","t":48.2,"f":0.098},{"g":"NN","t":52.7,"f":0.0992},{"g":"NN","t":55.6,"f":0.0973},{"g":"NN","t":30.4,"f":0.095},{"g":"NN","t":34.9,"f":0.0946},{"g":"NN","t":39.3,"f":0.0934},{"g":"NN","t":43.0,"f":0.0946},{"g":"NN","t":47.5,"f":0.0941},
  {"g":"NN","t":51.2,"f":0.0946},{"g":"NN","t":23.3,"f":0.0946},{"g":"NN","t":25.7,"f":0.0969},{"g":"NN","t":33.4,"f":0.0911},{"g":"NN","t":37.8,"f":0.0888},{"g":"NN","t":41.5,"f":0.09},{"g":"NN","t":45.3,"f":0.0905},{"g":"NN","t":49.0,"f":0.0895},{"g":"NN","t":54.2,"f":0.0888},{"g":"NN","t":59.3,"f":0.0893},
  {"g":"NN","t":64.5,"f":0.0905},{"g":"NN","t":55.6,"f":0.0865},{"g":"NN","t":60.1,"f":0.0877},{"g":"NN","t":31.2,"f":0.0865},{"g":"NN","t":35.6,"f":0.0854},{"g":"NN","t":39.3,"f":0.0843},{"g":"NN","t":43.0,"f":0.0854},{"g":"NN","t":46.7,"f":0.0843},{"g":"NN","t":51.2,"f":0.0849},{"g":"NN","t":33.4,"f":0.0808},
  {"g":"NN","t":37.1,"f":0.0797},{"g":"NN","t":40.8,"f":0.0808},{"g":"NN","t":44.5,"f":0.0797},{"g":"NN","t":48.2,"f":0.0808},{"g":"NN","t":29.7,"f":0.0813},{"g":"NN","t":26.3,"f":0.082},{"g":"NN","t":50.4,"f":0.0803},{"g":"NN","t":59.1,"f":0.0797},{"g":"NN","t":54.9,"f":0.079},{"g":"NN","t":27.4,"f":0.0762},
  {"g":"NN","t":33.4,"f":0.0758},{"g":"NN","t":37.8,"f":0.0751},{"g":"NN","t":42.3,"f":0.0762},{"g":"NN","t":46.0,"f":0.0751},{"g":"NN","t":34.9,"f":0.0728},{"g":"NN","t":38.6,"f":0.0716},{"g":"NN","t":42.3,"f":0.0721},{"g":"NN","t":47.5,"f":0.0716},{"g":"NN","t":28.2,"f":0.067},{"g":"NN","t":30.4,"f":0.0666},
  {"g":"NN","t":34.1,"f":0.067},{"g":"NN","t":37.8,"f":0.0659},{"g":"NN","t":36.6,"f":0.0643},{"g":"NN","t":26.7,"f":0.0601},{"g":"NN","t":29.7,"f":0.062},{"g":"NN","t":29.7,"f":0.0579},{"g":"NN","t":28.6,"f":0.0567},{"g":"NN","t":25.5,"f":0.056},{"g":"NN","t":32.3,"f":0.0601},{"g":"NN","t":27.7,"f":0.0728},
  {"g":"NN","t":24.2,"f":0.0739},{"g":"NN","t":20.0,"f":0.1038},
  {"g":"NN","t":31.5,"f":0.075},{"g":"NN","t":35.8,"f":0.079},{"g":"NN","t":39.8,"f":0.089},{"g":"NN","t":41.9,"f":0.094},{"g":"NN","t":44.0,"f":0.083},{"g":"NN","t":46.0,"f":0.097},{"g":"NN","t":47.9,"f":0.088},{"g":"NN","t":50.0,"f":0.091},{"g":"NN","t":52.5,"f":0.084},{"g":"NN","t":38.0,"f":0.101},
  {"g":"NN","t":36.0,"f":0.11},{"g":"NN","t":40.0,"f":0.113},{"g":"NN","t":44.0,"f":0.107},{"g":"NN","t":48.0,"f":0.103},{"g":"NN","t":52.0,"f":0.107},{"g":"NN","t":56.0,"f":0.104},{"g":"NN","t":33.0,"f":0.097},{"g":"NN","t":29.0,"f":0.09},{"g":"NN","t":27.0,"f":0.085},{"g":"NN","t":31.0,"f":0.07},
  {"g":"NN","t":35.0,"f":0.064},{"g":"NN","t":42.0,"f":0.068},{"g":"NN","t":45.0,"f":0.077},{"g":"NN","t":39.0,"f":0.075},{"g":"NN","t":43.5,"f":0.092},{"g":"NN","t":47.0,"f":0.112},{"g":"NN","t":53.5,"f":0.112},{"g":"NN","t":57.5,"f":0.095},{"g":"NN","t":62.0,"f":0.098},{"g":"NN","t":30.0,"f":0.12},
  {"g":"NN","t":27.5,"f":0.113},
  {"g":"NN","t":15.3,"f":0.0537},{"g":"NN","t":19.6,"f":0.0583},{"g":"NN","t":14.8,"f":0.0556},{"g":"NN","t":23.3,"f":0.051},{"g":"NN","t":29.4,"f":0.048},{"g":"NN","t":40.5,"f":0.051},{"g":"NN","t":44.1,"f":0.0498},{"g":"NN","t":41.5,"f":0.0475},{"g":"NN","t":37.5,"f":0.036},{"g":"NN","t":34.4,"f":0.0395},
  {"g":"NN","t":32.6,"f":0.036},{"g":"NN","t":37.8,"f":0.0406},{"g":"NN","t":34.6,"f":0.0326},{"g":"NN","t":31.2,"f":0.0303},{"g":"NN","t":28.2,"f":0.036},{"g":"NN","t":26.0,"f":0.0406},{"g":"NN","t":23.7,"f":0.0452},{"g":"NN","t":20.0,"f":0.0441},{"g":"NN","t":17.8,"f":0.0464},{"g":"NN","t":12.6,"f":0.0464},
  {"g":"NN","t":11.1,"f":0.0429},{"g":"NN","t":9.6,"f":0.0452},{"g":"NN","t":16.3,"f":0.0395},{"g":"NN","t":21.5,"f":0.0395},{"g":"NN","t":24.5,"f":0.0337},{"g":"NN","t":22.3,"f":0.0292},{"g":"NN","t":27.4,"f":0.0269},{"g":"NN","t":30.1,"f":0.0246},{"g":"NN","t":33.4,"f":0.0257},{"g":"NN","t":23.7,"f":0.0246},
  {"g":"NN","t":20.0,"f":0.028},{"g":"NN","t":17.1,"f":0.0337},{"g":"NN","t":14.1,"f":0.0349},{"g":"NN","t":11.1,"f":0.036},{"g":"NN","t":8.2,"f":0.0372},{"g":"NN","t":4.5,"f":0.036},{"g":"NN","t":2.2,"f":0.0326},{"g":"NN","t":0.0,"f":0.0337},{"g":"NN","t":0.0,"f":0.028},{"g":"NN","t":-0.4,"f":0.0234},
  {"g":"NN","t":0.0,"f":0.0188},{"g":"NN","t":-0.4,"f":0.0142},{"g":"NN","t":0.0,"f":0.0096},{"g":"NN","t":-0.4,"f":0.0051},{"g":"NN","t":2.2,"f":0.0028},{"g":"NN","t":3.0,"f":0.0073},{"g":"NN","t":3.7,"f":0.0119},{"g":"NN","t":3.0,"f":0.0165},{"g":"NN","t":3.7,"f":0.0211},{"g":"NN","t":3.0,"f":0.0257},
  {"g":"NN","t":5.2,"f":0.0292},{"g":"NN","t":6.7,"f":0.0234},{"g":"NN","t":5.9,"f":0.0177},{"g":"NN","t":6.7,"f":0.0119},{"g":"NN","t":5.2,"f":0.0062},{"g":"NN","t":8.2,"f":0.0028},{"g":"NN","t":8.9,"f":0.0085},{"g":"NN","t":9.6,"f":0.0142},{"g":"NN","t":8.9,"f":0.02},{"g":"NN","t":10.4,"f":0.0257},
  {"g":"NN","t":11.9,"f":0.0303},{"g":"NN","t":12.6,"f":0.0188},{"g":"NN","t":13.4,"f":0.0119},{"g":"NN","t":12.6,"f":0.0051},{"g":"NN","t":14.8,"f":0.0016},{"g":"NN","t":16.3,"f":0.0073},{"g":"NN","t":15.6,"f":0.0154},{"g":"NN","t":16.3,"f":0.0234},{"g":"NN","t":14.8,"f":0.028},{"g":"NN","t":18.5,"f":0.0257},
  {"g":"NN","t":19.3,"f":0.0188},{"g":"NN","t":18.5,"f":0.0131},{"g":"NN","t":20.0,"f":0.0062},{"g":"NN","t":22.3,"f":0.0028},{"g":"NN","t":23.3,"f":0.0108},{"g":"NN","t":22.3,"f":0.0165},{"g":"NN","t":24.5,"f":0.02},{"g":"NN","t":26.7,"f":0.0177},{"g":"NN","t":26.0,"f":0.0119},{"g":"NN","t":27.4,"f":0.0073},
  {"g":"NN","t":28.9,"f":0.02},{"g":"NN","t":30.4,"f":0.0165},{"g":"NN","t":28.9,"f":0.0315},{"g":"NN","t":32.6,"f":0.0188},{"g":"NN","t":34.9,"f":0.0223},{"g":"NN","t":37.1,"f":0.028},{"g":"NN","t":40.8,"f":0.0269},{"g":"NN","t":39.3,"f":0.0211},{"g":"NN","t":34.6,"f":0.028},{"g":"NN","t":31.2,"f":0.0234},
  {"g":"NN","t":43.8,"f":0.0395},{"g":"NN","t":44.5,"f":0.0349},{"g":"NN","t":26.7,"f":0.0429},{"g":"NN","t":31.2,"f":0.0395},{"g":"NN","t":28.2,"f":0.0418},{"g":"NN","t":17.1,"f":0.0556},{"g":"NN","t":19.3,"f":0.0521},{"g":"NN","t":11.1,"f":0.0395},{"g":"NN","t":5.2,"f":0.0395},{"g":"NN","t":4.5,"f":0.0326},
  {"g":"NN","t":1.5,"f":0.0188},{"g":"NN","t":1.5,"f":0.0119},{"g":"NN","t":11.1,"f":0.0062},{"g":"NN","t":17.8,"f":0.0039},{"g":"NN","t":5.9,"f":0.0039},{"g":"NN","t":14.1,"f":0.0211},{"g":"NN","t":20.8,"f":0.0223},{"g":"NN","t":20.8,"f":0.0349},{"g":"NN","t":8.2,"f":0.0303},{"g":"NN","t":6.7,"f":0.0337},
  {"g":"NN","t":1.0,"f":0.0292},{"g":"NN","t":13.4,"f":0.0246},{"g":"NN","t":25.2,"f":0.0292},{"g":"NN","t":27.4,"f":0.0326},
  {"g":"NN","t":1.2,"f":0.004},{"g":"NN","t":2.8,"f":0.01},{"g":"NN","t":4.1,"f":0.006},{"g":"NN","t":6.0,"f":0.002},{"g":"NN","t":7.4,"f":0.009},{"g":"NN","t":9.9,"f":0.004},{"g":"NN","t":10.9,"f":0.011},{"g":"NN","t":12.0,"f":0.008},{"g":"NN","t":13.9,"f":0.005},{"g":"NN","t":15.1,"f":0.01},
  {"g":"NN","t":17.2,"f":0.006},{"g":"NN","t":18.9,"f":0.002},{"g":"NN","t":19.8,"f":0.01},{"g":"NN","t":21.4,"f":0.005},{"g":"NN","t":23.9,"f":0.004},{"g":"NN","t":25.1,"f":0.009},{"g":"NN","t":0.6,"f":0.015},{"g":"NN","t":2.0,"f":0.022},{"g":"NN","t":4.8,"f":0.021},{"g":"NN","t":6.2,"f":0.028},
  {"g":"NN","t":7.8,"f":0.017},{"g":"NN","t":9.2,"f":0.024},{"g":"NN","t":10.8,"f":0.019},{"g":"NN","t":11.7,"f":0.013},{"g":"NN","t":13.1,"f":0.017},{"g":"NN","t":14.6,"f":0.023},{"g":"NN","t":16.9,"f":0.018},{"g":"NN","t":17.9,"f":0.029},{"g":"NN","t":19.0,"f":0.034},{"g":"NN","t":20.4,"f":0.016},
  {"g":"NN","t":21.6,"f":0.025},{"g":"NN","t":22.9,"f":0.032},{"g":"NN","t":24.0,"f":0.014},{"g":"NN","t":25.8,"f":0.024},{"g":"NN","t":27.0,"f":0.014},{"g":"NN","t":28.0,"f":0.028},{"g":"NN","t":29.5,"f":0.011},{"g":"NN","t":30.8,"f":0.029},{"g":"NN","t":32.0,"f":0.014},{"g":"NN","t":33.5,"f":0.031},
  {"g":"NN","t":35.5,"f":0.017},{"g":"NN","t":36.2,"f":0.025},{"g":"NN","t":38.4,"f":0.032},{"g":"NN","t":9.8,"f":0.033},{"g":"NN","t":12.4,"f":0.04},{"g":"NN","t":15.5,"f":0.044},{"g":"NN","t":18.2,"f":0.039},{"g":"NN","t":21.0,"f":0.048},{"g":"NN","t":13.6,"f":0.031},{"g":"NN","t":7.0,"f":0.042},
  {"g":"NN","t":2.7,"f":0.04},{"g":"NN","t":0.5,"f":0.038},{"g":"NN","t":22.5,"f":0.04},{"g":"NN","t":25.5,"f":0.036},{"g":"NN","t":27.2,"f":0.047},{"g":"NN","t":30.0,"f":0.044},{"g":"NN","t":33.0,"f":0.048},{"g":"NN","t":36.0,"f":0.043},{"g":"NN","t":39.0,"f":0.046},{"g":"NN","t":42.0,"f":0.043},
  {"g":"AA","t":19.4,"f":0.0096},{"g":"AA","t":28.5,"f":0.0089},{"g":"AA","t":33.4,"f":0.0154},{"g":"AA","t":37.2,"f":0.008},{"g":"AA","t":43.5,"f":0.0142},{"g":"AA","t":46.0,"f":0.0083},{"g":"AA","t":50.7,"f":0.031},{"g":"AA","t":40.8,"f":0.0399},{"g":"AA","t":45.5,"f":0.0459},{"g":"AA","t":44.7,"f":0.0381},
  {"g":"AA","t":51.6,"f":0.059},{"g":"AA","t":67.1,"f":0.0808},{"g":"AA","t":70.6,"f":0.0852},{"g":"AA","t":68.4,"f":0.0739},{"g":"AA","t":77.4,"f":0.067},{"g":"AA","t":112.0,"f":0.0781},{"g":"AA","t":114.4,"f":0.0891},{"g":"AA","t":121.2,"f":0.1031},{"g":"AA","t":134.1,"f":0.1093},{"g":"AA","t":133.7,"f":0.1061},
  {"g":"AA","t":136.9,"f":0.0992}
 ]
},
"resolve":{"scale":{"x":"independent","y":"independent","color":"independent"},"axis":{"x":"independent","y":"independent"},"legend":{"color":"independent"}},
"layer":[
 {"data":{"name":"refA"},"transform":[{"filter":{"field":"ref","oneOf":[10,30,50,100,160,250,400]}}],
  "mark":{"type":"line","interpolate":"step-after","strokeWidth":1.2,"color":"#f4d8bd"},
  "encoding":{"x":{"field":"t","type":"quantitative","scale":{"type":"log","domain":[8.5,1197],"range":[143,1273],"nice":false},"axis":null},
   "y":{"field":"v","type":"quantitative","scale":{"domain":[-0.039,1.041],"range":[535,64],"nice":false,"zero":false},"axis":null},
   "detail":{"field":"ref","type":"nominal"}}},
 {"data":{"name":"refA"},"transform":[{"filter":{"field":"ref","oneOf":[20,40,70,120,200,300,500]}}],
  "mark":{"type":"line","interpolate":"step-after","strokeWidth":1.2,"color":"#c8c8c8"},
  "encoding":{"x":{"field":"t","type":"quantitative","scale":{"type":"log","domain":[8.5,1197],"range":[143,1273],"nice":false},"axis":null},
   "y":{"field":"v","type":"quantitative","scale":{"domain":[-0.039,1.041],"range":[535,64],"nice":false,"zero":false},"axis":null},
   "detail":{"field":"ref","type":"nominal"}}},
 {"data":{"name":"gridA"},"mark":{"type":"rule","strokeDash":[5,4],"color":"#b0b0b0","strokeWidth":1},
  "encoding":{"y":{"field":"v","type":"quantitative","scale":{"domain":[-0.039,1.041],"range":[535,64],"nice":false,"zero":false},"axis":null},
   "x":{"datum":8.5,"type":"quantitative","scale":{"type":"log","domain":[8.5,1197],"range":[143,1273],"nice":false},"axis":null},"x2":{"datum":1197}}},
 {"data":{"name":"seriesA"},"mark":{"type":"line","interpolate":"step-after","strokeWidth":3.6,"strokeCap":"butt","strokeJoin":"miter"},
  "encoding":{
   "x":{"field":"t","type":"quantitative","scale":{"type":"log","domain":[8.5,1197],"range":[143,1273],"nice":false},
    "axis":{"orient":"bottom","offset":-683,"values":[10,20,30,40,50,60,70,80,90,100,200,300,400,500,600,700,800,900,1000],"format":"d","labelExpr":"indexof([10,20,30,40,50,100,200,300,400,500,1000], datum.value) >= 0 ? datum.label : ''","labelOverlap":false,"labelFlush":false,"labelPadding":7,"title":"Time (kyr)","titleX":689,"titlePadding":11}},
   "y":{"field":"v","type":"quantitative","scale":{"domain":[-0.039,1.041],"range":[535,64],"nice":false,"zero":false},
    "axis":{"orient":"left","offset":-143,"values":[0,0.25,0.5,0.75,1],"format":".2f","labelPadding":14,"title":"Relative cross-coalescence rate","titlePadding":10}},
   "color":{"field":"s","type":"nominal","legend":null,"scale":{"domain":["Biaka-Yoruba","Biaka-Mbuti","Mbuti-Yoruba","Han-San","Biaka-Han","Han-Mbuti","Mbuti-San","Biaka-San","San-Yoruba","Han-Yoruba","Mbuti-AltaiNeandertal","Mbuti-VindijaNeandertal","Mbuti-Denisovan"],"range":["#b2df8a","#a6cee3","#fb9a99","#cab2d6","#fdbf6f","#ff7f00","#33a02c","#1f78b4","#e31a1c","#6a3d9a","#6cb0e0","#3d8ac9","#8b1a1a"]}}}},
 {"data":{"name":"refLabelsA"},"transform":[{"filter":{"field":"ref","oneOf":[10,30,50,100,160,250,400]}}],
  "mark":{"type":"text","fontSize":20,"color":"#f2d0b0","baseline":"middle"},
  "encoding":{"x":{"field":"t","type":"quantitative","scale":{"type":"log","domain":[8.5,1197],"range":[143,1273],"nice":false},"axis":null},
   "y":{"field":"v","type":"quantitative","scale":{"domain":[-0.039,1.041],"range":[535,64],"nice":false,"zero":false},"axis":null},"text":{"field":"ref"}}},
 {"data":{"name":"refLabelsA"},"transform":[{"filter":{"field":"ref","oneOf":[20,40,70,120,200,300,500]}}],
  "mark":{"type":"text","fontSize":20,"color":"#a8a8a8","baseline":"middle"},
  "encoding":{"x":{"field":"t","type":"quantitative","scale":{"type":"log","domain":[8.5,1197],"range":[143,1273],"nice":false},"axis":null},
   "y":{"field":"v","type":"quantitative","scale":{"domain":[-0.039,1.041],"range":[535,64],"nice":false,"zero":false},"axis":null},"text":{"field":"ref"}}},
 {"data":{"name":"labelsA"},"mark":{"type":"text","fontSize":19,"align":"center","baseline":"middle"},
  "encoding":{"x":{"field":"t","type":"quantitative","scale":{"type":"log","domain":[8.5,1197],"range":[143,1273],"nice":false},"axis":null},
   "y":{"field":"v","type":"quantitative","scale":{"domain":[-0.039,1.041],"range":[535,64],"nice":false,"zero":false},"axis":null},"text":{"field":"s"},
   "color":{"field":"s","type":"nominal","legend":null,"scale":{"domain":["Biaka-Yoruba","Biaka-Mbuti","Mbuti-Yoruba","Han-San","Biaka-Han","Han-Mbuti","Mbuti-San","Biaka-San","San-Yoruba","Han-Yoruba","Mbuti-AltaiNeandertal","Mbuti-VindijaNeandertal","Mbuti-Denisovan"],"range":["#b2df8a","#a6cee3","#fb9a99","#cab2d6","#fdbf6f","#ff7f00","#33a02c","#1f78b4","#e31a1c","#6a3d9a","#6cb0e0","#3d8ac9","#8b1a1a"]}}}},
 {"data":{"values":[{}]},"mark":{"type":"rect","fillOpacity":0,"stroke":"#222","strokeWidth":1.4},
  "encoding":{"x":{"datum":8.5,"type":"quantitative","scale":{"type":"log","domain":[8.5,1197],"range":[143,1273],"nice":false},"axis":null},"x2":{"datum":1197},
   "y":{"datum":-0.039,"type":"quantitative","scale":{"domain":[-0.039,1.041],"range":[535,64],"nice":false,"zero":false},"axis":null},"y2":{"datum":1.041}}},
 {"data":{"values":[{}]},"mark":{"type":"text","text":"A","fontSize":24,"fontWeight":"bold","color":"#000","baseline":"middle"},
  "encoding":{"x":{"datum":5.92,"type":"quantitative","scale":{"type":"log","domain":[8.5,1197],"range":[143,1273],"nice":false},"axis":null},
   "y":{"datum":1.108,"type":"quantitative","scale":{"domain":[-0.039,1.041],"range":[535,64],"nice":false,"zero":false},"axis":null}}},

 {"data":{"name":"refB"},"transform":[{"filter":{"field":"ref","oneOf":[10,30,50,100]}}],
  "mark":{"type":"line","interpolate":"step-after","strokeWidth":1.2,"color":"#f4d8bd"},
  "encoding":{"x":{"field":"t","type":"quantitative","scale":{"type":"log","domain":[9.28,108.7],"range":[155,718],"nice":false},"axis":null},
   "y":{"field":"v","type":"quantitative","scale":{"domain":[-0.0413,1.039],"range":[1155,684],"nice":false,"zero":false},"axis":null},
   "detail":{"field":"ref","type":"nominal"}}},
 {"data":{"name":"refB"},"transform":[{"filter":{"field":"ref","oneOf":[20,40,70]}}],
  "mark":{"type":"line","interpolate":"step-after","strokeWidth":1.2,"color":"#c8c8c8"},
  "encoding":{"x":{"field":"t","type":"quantitative","scale":{"type":"log","domain":[9.28,108.7],"range":[155,718],"nice":false},"axis":null},
   "y":{"field":"v","type":"quantitative","scale":{"domain":[-0.0413,1.039],"range":[1155,684],"nice":false,"zero":false},"axis":null},
   "detail":{"field":"ref","type":"nominal"}}},
 {"data":{"name":"gridA"},"mark":{"type":"rule","strokeDash":[5,4],"color":"#b0b0b0","strokeWidth":1},
  "encoding":{"y":{"field":"v","type":"quantitative","scale":{"domain":[-0.0413,1.039],"range":[1155,684],"nice":false,"zero":false},"axis":null},
   "x":{"datum":9.28,"type":"quantitative","scale":{"type":"log","domain":[9.28,108.7],"range":[155,718],"nice":false},"axis":null},"x2":{"datum":108.7}}},
 {"data":{"name":"seriesB"},"mark":{"type":"line","interpolate":"step-after","strokeWidth":3.6,"strokeCap":"butt","strokeJoin":"miter"},
  "encoding":{
   "x":{"field":"t","type":"quantitative","scale":{"type":"log","domain":[9.28,108.7],"range":[155,718],"nice":false},
    "axis":{"orient":"bottom","offset":-63,"values":[10,20,30,40,50,60,70,80,90,100],"format":"d","labelExpr":"indexof([10,20,30,40,50,100], datum.value) >= 0 ? datum.label : ''","labelOverlap":false,"labelFlush":false,"labelPadding":6,"title":"Time (kyr)","titleX":418,"titlePadding":6}},
   "y":{"field":"v","type":"quantitative","scale":{"domain":[-0.0413,1.039],"range":[1155,684],"nice":false,"zero":false},
    "axis":{"orient":"left","offset":-155,"values":[0,0.25,0.5,0.75,1],"format":".2f","labelPadding":14,"title":"Relative cross-coalescence rate","titlePadding":10,"titleY":907}},
   "color":{"field":"s","type":"nominal","legend":null,"scale":{"domain":["Karitiana-Pima","Druze-Sardinian","Han-Yakut","Karitiana-Yakut","Han-PapuanHighlands","Han-Sardinian","Han-Karitiana"],"range":["#1f78b4","#a6cee3","#fb9a99","#b2df8a","#fdbf6f","#33a02c","#e31a1c"]}}}},
 {"data":{"name":"refLabelsB"},"transform":[{"filter":{"field":"ref","oneOf":[10,30,50,100]}}],
  "mark":{"type":"text","fontSize":20,"color":"#f2d0b0","baseline":"middle"},
  "encoding":{"x":{"field":"t","type":"quantitative","scale":{"type":"log","domain":[9.28,108.7],"range":[155,718],"nice":false},"axis":null},
   "y":{"field":"v","type":"quantitative","scale":{"domain":[-0.0413,1.039],"range":[1155,684],"nice":false,"zero":false},"axis":null},"text":{"field":"ref"}}},
 {"data":{"name":"refLabelsB"},"transform":[{"filter":{"field":"ref","oneOf":[20,40,70]}}],
  "mark":{"type":"text","fontSize":20,"color":"#a8a8a8","baseline":"middle"},
  "encoding":{"x":{"field":"t","type":"quantitative","scale":{"type":"log","domain":[9.28,108.7],"range":[155,718],"nice":false},"axis":null},
   "y":{"field":"v","type":"quantitative","scale":{"domain":[-0.0413,1.039],"range":[1155,684],"nice":false,"zero":false},"axis":null},"text":{"field":"ref"}}},
 {"data":{"name":"labelsB"},"mark":{"type":"text","fontSize":18,"align":"center","baseline":"middle"},
  "encoding":{"x":{"field":"t","type":"quantitative","scale":{"type":"log","domain":[9.28,108.7],"range":[155,718],"nice":false},"axis":null},
   "y":{"field":"v","type":"quantitative","scale":{"domain":[-0.0413,1.039],"range":[1155,684],"nice":false,"zero":false},"axis":null},"text":{"field":"s"},
   "color":{"field":"s","type":"nominal","legend":null,"scale":{"domain":["Karitiana-Pima","Druze-Sardinian","Han-Yakut","Karitiana-Yakut","Han-PapuanHighlands","Han-Sardinian","Han-Karitiana"],"range":["#1f78b4","#a6cee3","#fb9a99","#b2df8a","#fdbf6f","#33a02c","#e31a1c"]}}}},
 {"data":{"values":[{}]},"mark":{"type":"rect","fillOpacity":0,"stroke":"#222","strokeWidth":1.4},
  "encoding":{"x":{"datum":9.28,"type":"quantitative","scale":{"type":"log","domain":[9.28,108.7],"range":[155,718],"nice":false},"axis":null},"x2":{"datum":108.7},
   "y":{"datum":-0.0413,"type":"quantitative","scale":{"domain":[-0.0413,1.039],"range":[1155,684],"nice":false,"zero":false},"axis":null},"y2":{"datum":1.039}}},
 {"data":{"values":[{}]},"mark":{"type":"text","text":"B","fontSize":24,"fontWeight":"bold","color":"#000","baseline":"middle"},
  "encoding":{"x":{"datum":6.35,"type":"quantitative","scale":{"type":"log","domain":[9.28,108.7],"range":[155,718],"nice":false},"axis":null},
   "y":{"datum":1.101,"type":"quantitative","scale":{"domain":[-0.0413,1.039],"range":[1155,684],"nice":false,"zero":false},"axis":null}}},

 {"data":{"name":"gridC"},"mark":{"type":"rule","strokeDash":[5,4],"color":"#c4c4c4","strokeWidth":1},
  "encoding":{"x":{"field":"t","type":"quantitative","scale":{"domain":[-8.33,208.1],"range":[793,1279],"nice":false,"zero":false},"axis":null},
   "y":{"datum":-0.0122,"type":"quantitative","scale":{"domain":[-0.0122,0.3122],"range":[1155,684],"nice":false,"zero":false},"axis":null},"y2":{"datum":0.3122}}},
 {"data":{"name":"fst"},"mark":{"type":"point","shape":"circle","filled":false,"size":70,"strokeWidth":1.1},
  "encoding":{
   "x":{"field":"t","type":"quantitative","scale":{"domain":[-8.33,208.1],"range":[793,1279],"nice":false,"zero":false},
    "axis":{"orient":"bottom","offset":-63,"values":[0,50,100,150,200],"labelPadding":6,"labelFlush":false,"title":"Split time (kyr)","titleX":1020,"titlePadding":6}},
   "y":{"field":"f","type":"quantitative","scale":{"domain":[-0.0122,0.3122],"range":[1155,684],"nice":false,"zero":false},
    "axis":{"orient":"left","offset":-793,"values":[0,0.05,0.1,0.15,0.2,0.25,0.3],"format":".2f","labelAngle":-90,"labelAlign":"center","labelBaseline":"bottom","labelFontSize":14,"labelPadding":5,"labelFlush":false,"title":null}},
   "color":{"field":"g","type":"nominal","scale":{"domain":["AA","NN","AN"],"range":["#3a56a6","#8b1a1a","#c9a3d4"]},
    "legend":{"orient":"none","legendX":1048,"legendY":1063,"title":null,"strokeColor":"#333","padding":9,"labelFontSize":15,"labelLimit":400,"symbolSize":60,"symbolStrokeWidth":1.2,"symbolType":"circle","rowPadding":4,"labelOffset":12,"labelColor":"#111",
     "labelExpr":"datum.label == 'AA' ? 'African - African' : datum.label == 'NN' ? 'Non-African - Non-African' : 'African - Non-African'"}}}},
 {"data":{"values":[{}]},"mark":{"type":"rect","fillOpacity":0,"stroke":"#222","strokeWidth":1.4},
  "encoding":{"x":{"datum":-8.33,"type":"quantitative","scale":{"domain":[-8.33,208.1],"range":[793,1279],"nice":false,"zero":false},"axis":null},"x2":{"datum":208.1},
   "y":{"datum":-0.0122,"type":"quantitative","scale":{"domain":[-0.0122,0.3122],"range":[1155,684],"nice":false,"zero":false},"axis":null},"y2":{"datum":0.3122}}},
 {"data":{"values":[{}]},"mark":{"type":"text","text":"C","fontSize":24,"fontWeight":"bold","color":"#000","baseline":"middle"},
  "encoding":{"x":{"datum":-33.6,"type":"quantitative","scale":{"domain":[-8.33,208.1],"range":[793,1279],"nice":false,"zero":false},"axis":null},
   "y":{"datum":0.3255,"type":"quantitative","scale":{"domain":[-0.0122,0.3122],"range":[1155,684],"nice":false,"zero":false},"axis":null}}},
 {"data":{"values":[{}]},"mark":{"type":"text","text":"F","fontSize":20,"fontStyle":"italic","color":"#000","baseline":"middle","align":"center"},
  "encoding":{"x":{"datum":-32.6,"type":"quantitative","scale":{"domain":[-8.33,208.1],"range":[793,1279],"nice":false,"zero":false},"axis":null},
   "y":{"datum":0.1515,"type":"quantitative","scale":{"domain":[-0.0122,0.3122],"range":[1155,684],"nice":false,"zero":false},"axis":null}}},
 {"data":{"values":[{}]},"mark":{"type":"text","text":"ST","fontSize":13,"color":"#000","baseline":"middle","align":"center"},
  "encoding":{"x":{"datum":-27.2,"type":"quantitative","scale":{"domain":[-8.33,208.1],"range":[793,1279],"nice":false,"zero":false},"axis":null},
   "y":{"datum":0.1465,"type":"quantitative","scale":{"domain":[-0.0122,0.3122],"range":[1155,684],"nice":false,"zero":false},"axis":null}}}
]
}
